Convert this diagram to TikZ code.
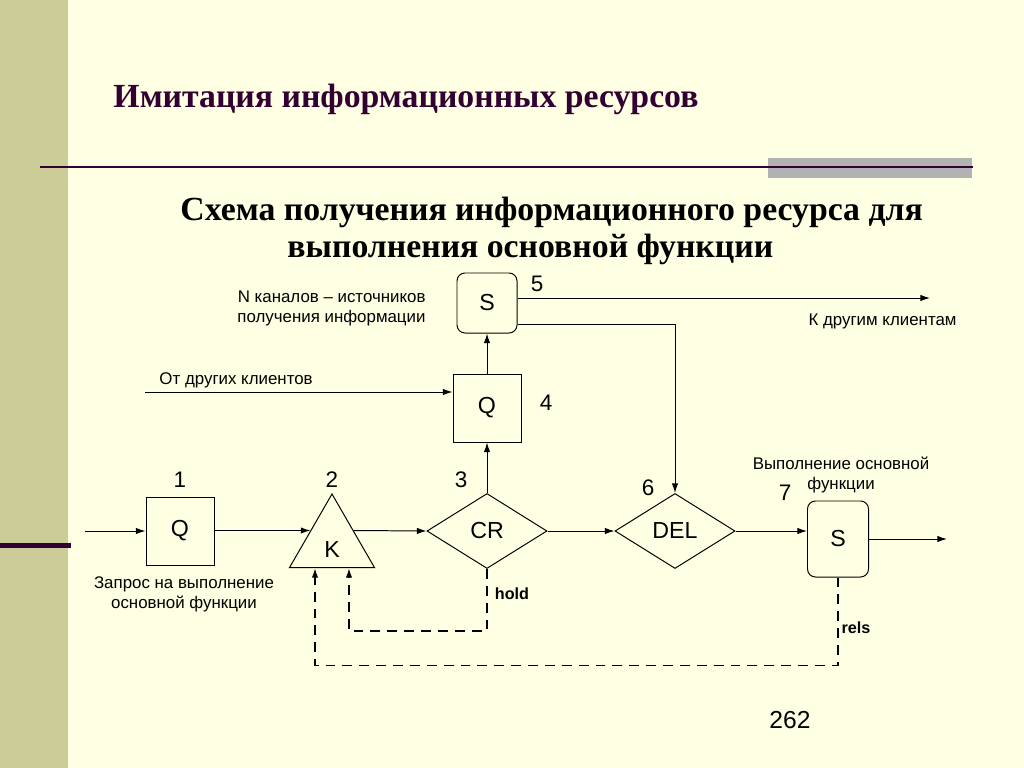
\documentclass[tikz,border=0pt]{standalone}
\usepackage{fontspec}
\setmainfont{Liberation Sans}
\newfontfamily\titlefont{Liberation Serif}
\usetikzlibrary{shapes, arrows.meta}
\definecolor{slidebg}{HTML}{FFFFE3}
\definecolor{sidebar}{HTML}{CCCC99}
\definecolor{plum}{HTML}{330033}
\definecolor{bargray}{HTML}{B2B2B2}

\begin{document}
\begin{tikzpicture}[x=0.025cm, y=-0.025cm, line width=0.7pt,
  >={Latex[length=2.4mm,width=1.6mm]},
  box/.style={draw, minimum width=1.7cm, minimum height=1.7cm, inner sep=0pt, font=\fontsize{16.5}{19}\selectfont},
  srv/.style={draw, rounded corners=0.2cm, inner sep=0pt, font=\fontsize{16.5}{19}\selectfont},
  gate/.style={draw, diamond, minimum width=3cm, minimum height=1.875cm, inner sep=0pt, font=\fontsize{16.5}{19}\selectfont},
  note/.style={inner sep=0pt, font=\fontsize{12}{14.2}\selectfont},
  headline/.style={anchor=base west, inner sep=0pt, font=\titlefont\bfseries\fontsize{24}{28}\selectfont},
  fb/.style={dash pattern=on 7pt off 5pt, line width=1.2pt}]

%Slide
\fill[slidebg] (0,0) rectangle (1024,768);
\useasboundingbox (0,0) rectangle (1024,768);
\fill[sidebar] (0,0) rectangle (68,768);
\fill[plum] (0,543) rectangle (71,548);
\fill[bargray] (768,158) rectangle (972,178);
\draw[plum, line width=2pt] (40,167) -- (973,167);

%Titles
\node[headline, text=plum] (title) at (113,108) {Имитация информационных ресурсов};
\node[headline] (sub1) at (180,220) {Схема получения информационного ресурса для};
\node[headline] (sub2) at (287,257) {выполнения основной функции};

% Blocks
\node[box] (q1) at (180,531) {Q};
\node[draw, regular polygon, regular polygon sides=3, minimum size=2.45cm, inner sep=0pt,
  label={[yshift=-0.175cm, font=\fontsize{16.5}{19}\selectfont]center:K}] (k) at (332,543) {};
\node[gate] (cr) at (487,531) {CR};
\node[box] (q4) at (487,408) {Q};
\node[srv, minimum width=1.5cm, minimum height=1.5cm] (s5) at (487,303) {S};
\node[gate] (del) at (675,531) {DEL};
\node[srv, minimum width=1.525cm, minimum height=1.9cm] (s7) at (838,539) {S};

% Numbers
\foreach \num/\px/\py in {1/180/480, 2/332/480, 3/461/480, 4/546/403, 5/537/284, 6/648/488, 7/785/493}
  \node[font=\fontsize{16}{19}\selectfont] (n\num) at (\px,\py) {\num};

% Texts
\node[note, align=right, anchor=east] (chan) at (426,308) {N каналов -- источников\\получения информации};
\node[note, anchor=west] (from) at (159,380) {От других клиентов};
\node[note, anchor=east] (toothers) at (957,321) {К другим клиентам};
\node[note, align=center] (exec) at (841,475) {Выполнение основной\\функции};
\node[note, align=center] (req) at (184,594) {Запрос на выполнение\\основной функции};
\node[note, font=\fontsize{11.5}{14}\selectfont\bfseries] (hold) at (512,594) {hold};
\node[note, font=\fontsize{11.5}{14}\selectfont\bfseries] (rels) at (856,628) {rels};
\node[font=\fontsize{17.5}{21}\selectfont] (page) at (790,720) {262};

% Connectors
\coordinate (in1) at (85,531);
\coordinate (in4) at (145,392);
\coordinate (out5) at (930,298);
\coordinate (out7) at (947,539);

\draw[->] (in1) -- (q1);
\draw[->] (q1.east |- k.side 1) -- (k.side 1);
\draw[->] (k.side 3) -- (cr.west);
\draw[->] (cr.north) -- (q4.south);
\draw[->] (q4.north) -- (s5.south);
\draw[->] (in4) -- (in4 -| q4.west);
\draw[->] ([yshift=0.125cm]s5.east) -- ([yshift=0.125cm]s5.east -| out5);
\draw[->] ([yshift=-0.525cm]s5.east) -| (del.north);
\draw[->] (cr.east) -- (del.west);
\draw[->] (del.east) -- (del.east -| s7.west);
\draw[->] (s7) -- (out7);

% Feedback
\draw[fb, ->] (cr.south) -- ++(0,62) -| ([xshift=0.425cm]k.side 2);
\draw[fb, ->] (s7.south) -- ++(0,88) -| ([xshift=-0.425cm]k.side 2);

\end{tikzpicture}
\end{document}
